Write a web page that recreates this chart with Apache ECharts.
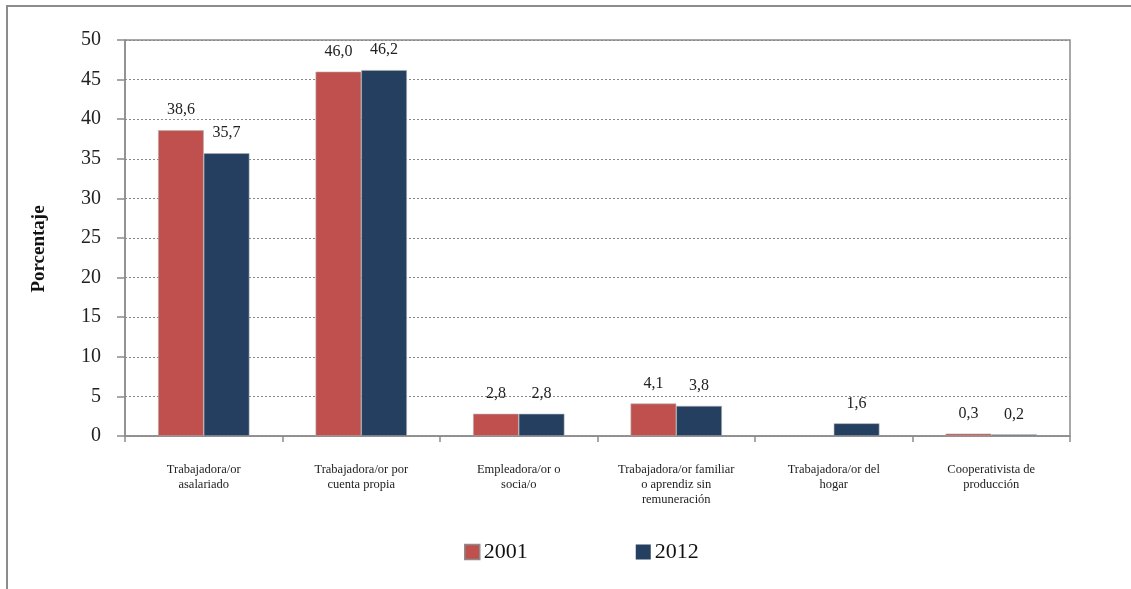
<!DOCTYPE html>
<html>
<head>
<meta charset="utf-8">
<script src="https://cdn.jsdelivr.net/npm/echarts@6/dist/echarts.min.js"></script>
<style>
html,body{margin:0;padding:0;background:#fff;}
#chart{width:1131px;height:589px;}
</style>
</head>
<body>
<div id="chart"></div>
<script>
var categories = [
  "Trabajadora/or\nasalariado",
  "Trabajadora/or por\ncuenta propia",
  "Empleadora/or o\nsocia/o",
  "Trabajadora/or familiar\no aprendiz sin\nremuneración",
  "Trabajadora/or del\nhogar",
  "Cooperativista de\nproducción"
];
var series2001 = [38.6, 46.0, 2.8, 4.1, null, 0.3];
var series2012 = [35.7, 46.2, 2.8, 3.8, 1.6, 0.2];
var yTicks = [0, 5, 10, 15, 20, 25, 30, 35, 40, 45, 50];

var FONT = "'Liberation Serif', 'DejaVu Serif', serif";
function fmt(p){ return p.value == null ? '' : Number(p.value).toFixed(1).replace('.', ','); }

var chart = echarts.init(document.getElementById('chart'));
chart.setOption({
  animation: false,
  backgroundColor: '#ffffff',
  textStyle: { fontFamily: FONT, color: '#222' },
  graphic: [{
    type: 'rect',
    shape: { x: 7, y: 6, width: 1140, height: 620 },
    style: { fill: 'none', stroke: '#8c8c8c', lineWidth: 2 },
    silent: true
  }],
  grid: {
    left: 125, right: 61, top: 40, bottom: 153,
    show: true, borderColor: '#8c8c8c', borderWidth: 1.5, backgroundColor: 'transparent'
  },
  legend: {
    left: 459, top: 536,
    itemWidth: 15, itemHeight: 15, itemGap: 108,
    icon: 'rect',
    textStyle: { fontFamily: FONT, fontSize: 22, color: '#111', padding: [0, 0, 0, -1] },
    data: [
      { name: '2001', itemStyle: { borderColor: '#8c8c8c', borderWidth: 1.5 } },
      { name: '2012', itemStyle: { borderWidth: 0 } }
    ]
  },
  xAxis: {
    type: 'category',
    data: categories,
    axisLine: { show: true, lineStyle: { color: '#8c8c8c', width: 1.5 } },
    axisTick: { show: true, length: 6, interval: 0, lineStyle: { color: '#8c8c8c', width: 1.5 } },
    axisLabel: { interval: 0, margin: 26, fontFamily: FONT, fontSize: 12.5, lineHeight: 15, color: '#222' }
  },
  yAxis: {
    type: 'value',
    min: yTicks[0], max: yTicks[yTicks.length - 1], interval: 5,
    name: 'Porcentaje',
    nameLocation: 'middle',
    nameRotate: 90,
    nameGap: 76,
    nameTextStyle: { fontFamily: FONT, fontSize: 19, fontWeight: 'bold', color: '#111', padding: [0, 0, 0, -22] },
    axisLine: { show: true, lineStyle: { color: '#8c8c8c', width: 1.5 } },
    axisTick: { show: true, inside: false, length: 8, lineStyle: { color: '#8c8c8c', width: 1.5 } },
    axisLabel: { margin: 24, fontFamily: FONT, fontSize: 20, color: '#222' },
    splitLine: { show: true, lineStyle: { color: '#888', type: [2, 2], width: 1 } }
  },
  series: [
    {
      name: '2001', type: 'bar', data: series2001,
      barGap: '0%', barCategoryGap: '42%',
      itemStyle: { color: '#C0504D', borderColor: '#b0b0b0', borderWidth: 0.6 },
      label: { show: true, position: 'top', distance: 12, formatter: fmt, fontFamily: FONT, fontSize: 16, color: '#222' }
    },
    {
      name: '2012', type: 'bar', data: series2012,
      itemStyle: { color: '#243F60', borderColor: '#b0b0b0', borderWidth: 0.6 },
      label: { show: true, position: 'top', distance: 12, formatter: fmt, fontFamily: FONT, fontSize: 16, color: '#222' }
    }
  ]
});
</script>
</body>
</html>
